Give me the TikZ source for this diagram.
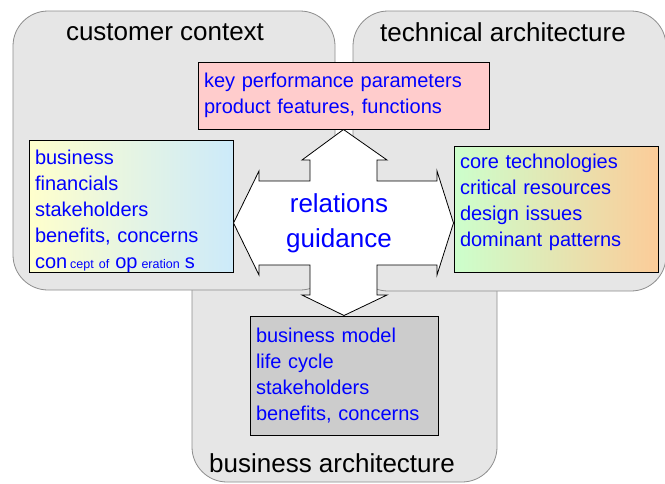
\documentclass[tikz,border=0pt]{standalone}
\usepackage{fontspec}
\setmainfont{Liberation Sans}
\usetikzlibrary{calc}
\definecolor{custleft}{HTML}{FFFFCC}
\definecolor{custright}{HTML}{CCEAFA}
\definecolor{techleft}{HTML}{CCFFCC}
\definecolor{techright}{HTML}{FCCC99}
\definecolor{kppfill}{HTML}{FFCCCC}
\definecolor{areafill}{HTML}{E6E6E6}
\newcommand{\smalltxt}[1]{{\fontsize{12.5}{14}\selectfont #1}}

\begin{document}
\begin{tikzpicture}[x=1pt, y=-1pt,
  area/.style={draw=gray!90, fill=areafill, line width=0.8pt, rounded corners=35pt},
  areatitle/.style={font=\fontsize{26}{30}\selectfont},
  infobox/.style={draw=black, line width=1pt, text=blue, align=left,
    font=\fontsize{20}{26}\selectfont, inner xsep=6pt, inner ysep=0pt}]
\useasboundingbox (0,0) rectangle (665,483);
% the three areas
\draw[area] (192,200) rectangle (497,482);
\draw[area] (13,11) rectangle (335,290);
\draw[area] (353,11) rectangle (666,291);
\node[areatitle] (custtitle) at (165,32) {customer context};
\node[areatitle] (techtitle) at (503,32) {technical architecture};
\node[areatitle] (bustitle) at (332,463) {business architecture};
% boxes
\node[infobox, fill=kppfill, minimum width=291, minimum height=67, text width=279] (kpp) at (343.5,95.5)
  {key performance parameters\\product features, functions};
\node[infobox, left color=custleft, right color=custright, minimum width=204, minimum height=132, text width=192, text depth=98pt] (cust) at (131,206)
  {business\\financials\\stakeholders\\benefits, concerns\\con\hspace{3pt}\smalltxt{cept\hspace{5pt}of}\hspace{6pt}op\hspace{4pt}\smalltxt{eration}\hspace{5pt}s};
\node[infobox, left color=techleft, right color=techright, minimum width=204, minimum height=126, text width=192, text depth=96pt] (tech) at (556,209)
  {core technologies\\critical resources\\design issues\\dominant patterns};
\node[infobox, fill=gray!40, minimum width=188, minimum height=119, text width=176] (bus) at (344,375.5)
  {business model\\life cycle\\stakeholders\\benefits, concerns};
% cross arrow
\coordinate (mid) at (344,223);
\draw[fill=white, line width=0.8pt] (kpp.south) -- (387,160) -- (377,160) -- (377,181) -- (437,181) -- (437,171)
  -- (tech.west |- mid) -- (437,275) -- (437,265) -- (377,265) -- (377,295) -- (387,295)
  -- (bus.north) -- (302,295) -- (310,295) -- (310,265) -- (259,265) -- (259,275)
  -- (cust.east |- mid) -- (259,171) -- (259,181) -- (310,181) -- (310,160) -- (302,160) -- cycle;
\node[text=blue, align=center, font=\fontsize{26}{35}\selectfont] (rel) at (339,223) {relations\\guidance};
\end{tikzpicture}
\end{document}
